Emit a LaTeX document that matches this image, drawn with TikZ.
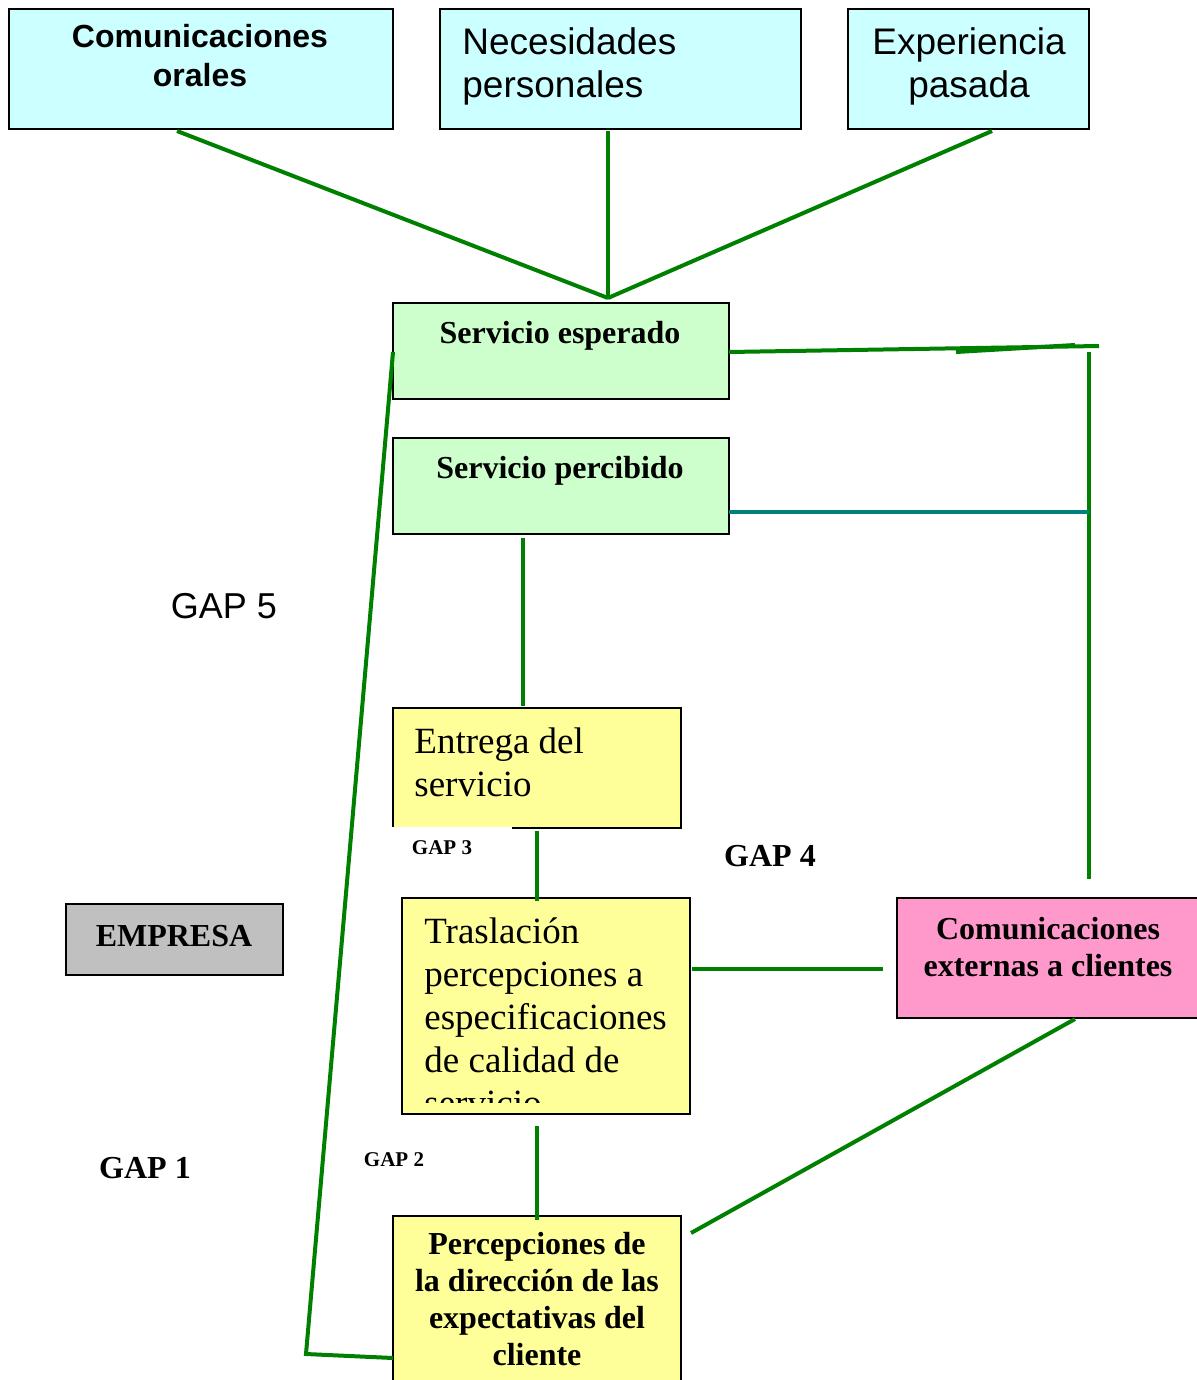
\documentclass[tikz,border=0pt]{standalone}
\usepackage{fontspec}
\setmainfont{Liberation Serif}
\setsansfont{Liberation Sans}
\usetikzlibrary{calc}
\definecolor{bcyan}{RGB}{204,255,255}
\definecolor{bgreen}{RGB}{204,255,204}
\definecolor{byellow}{RGB}{255,255,153}
\definecolor{bpink}{RGB}{255,153,204}
\definecolor{bgray}{RGB}{192,192,192}
\definecolor{lgreen}{RGB}{0,128,0}
\definecolor{lteal}{RGB}{0,128,128}
\begin{document}
\begin{tikzpicture}[x=0.5pt,y=-0.5pt,
  box/.style={draw=black, line width=0.8pt, inner sep=0pt},
  txt/.style={inner sep=0pt, anchor=base},
  gl/.style={draw=lgreen, line width=2pt},
  tl/.style={draw=lteal, line width=2pt},
  sansA/.style={font=\sffamily\fontsize{16}{19.5}\selectfont\bfseries},
  sansB/.style={font=\sffamily\fontsize{18.5}{21.5}\selectfont},
  serB/.style={font=\rmfamily\bfseries\fontsize{16}{18.4}\selectfont},
  serR/.style={font=\rmfamily\fontsize{18.5}{21.5}\selectfont},
  serS/.style={font=\rmfamily\bfseries\fontsize{10.5}{12}\selectfont}]
\useasboundingbox[fill=white] (0,0) rectangle (1197,1380);

% boxes
\node[box, fill=bcyan, minimum width=192pt, minimum height=60pt] (co) at (201,69) {};
\node[box, fill=bcyan, minimum width=180.5pt, minimum height=60pt] (np) at (620.5,69) {};
\node[box, fill=bcyan, minimum width=120.5pt, minimum height=60pt] (ep) at (968.5,69) {};
\node[box, fill=bgreen, minimum width=168pt, minimum height=48pt] (se) at (561,351) {};
\node[box, fill=bgreen, minimum width=168pt, minimum height=48pt] (sp) at (561,486) {};
\node[box, fill=byellow, minimum width=144pt, minimum height=60pt] (es) at (537,768) {};
\node[box, fill=byellow, minimum width=144pt, minimum height=108pt] (tr) at (546,1006) {};
\node[box, fill=bgray, minimum width=108.5pt, minimum height=35.5pt] (em) at (174.5,939.5) {};
\node[box, fill=bpink, minimum width=151.5pt, minimum height=60pt] (ce) at (1048.5,958) {};
\node[box, fill=byellow, minimum width=144pt, minimum height=87pt] (pd) at (537,1303) {};

% texts (multi-line nodes: base anchor = last line baseline)
\node[txt, sansA, align=center] (tco) at (200,87) {Comunicaciones\\orales};
\node[txt, sansB, align=left, anchor=base west] (tnp) at (462,98) {Necesidades\\personales};
\node[txt, sansB, align=center] (tep) at (969,98) {Experiencia\\pasada};
\node[txt, serB] (tse) at (560,343) {Servicio esperado};
\node[txt, serB] (tsp) at (560,478) {Servicio percibido};
\node[txt, serR, align=left, anchor=base west] (tes) at (414,796) {Entrega del\\servicio};
\begin{scope}
\clip (400,900) rectangle (690,1102);
\node[txt, serR, align=left, anchor=base west] (ttr) at (424,1115) {Traslación\\percepciones a\\especificaciones\\de calidad de\\servicio};
\end{scope}
\node[txt, serB] (tem) at (174,946) {EMPRESA};
\node[txt, serB, align=center] (tce) at (1048,976) {Comunicaciones\\externas a clientes};
\node[txt, serB, align=center, font=\rmfamily\bfseries\fontsize{16}{18.35}\selectfont] (tpd) at (537,1365) {Percepciones de\\la dirección de las\\expectativas del\\cliente};

% gap labels
\node[txt, font=\sffamily\fontsize{18}{21}\selectfont] (g5) at (224,618) {GAP 5};
\node[txt, serB] (g4) at (770,866) {GAP 4};
\node[txt, serB] (g1) at (145,1178) {GAP 1};
\fill[white] (390,827) rectangle (512,872);
\node[txt, serS] (g3) at (442,854) {GAP 3};
\node[txt, serS] (g2) at (394,1166) {GAP 2};

% coordinates
\coordinate (j) at (608,298);
\coordinate (a1) at (177,131);
\coordinate (a2) at (608,131);
\coordinate (a3) at (992,131);
\coordinate (r1) at (729,352);
\coordinate (r2) at (1099,346);
\coordinate (r3) at (956,352);
\coordinate (r4) at (1075,345);
\coordinate (v1) at (1089,352);
\coordinate (v2) at (1089,879);
\coordinate (t1) at (729,512);
\coordinate (t2) at (1089,512);
\coordinate (s1) at (523,538);
\coordinate (s2) at (523,706);
\coordinate (e1) at (537,831);
\coordinate (e2) at (537,901);
\coordinate (h1) at (692,969);
\coordinate (h2) at (883,969);
\coordinate (p1) at (537,1126);
\coordinate (p2) at (537,1220);
\coordinate (c1) at (1075,1019);
\coordinate (c2) at (691,1233);
\coordinate (l1) at (393,352);
\coordinate (l2) at (306,1354);
\coordinate (l3) at (393,1358);

% connectors
\draw[gl] (a1) -- (j);
\draw[gl] (a2) -- (j);
\draw[gl] (a3) -- (j);
\draw[gl] (r1) -- (r2);
\draw[gl] (r3) -- (r4);
\draw[gl] (v1) -- (v2);
\draw[tl] (t1) -- (t2);
\draw[gl] (s1) -- (s2);
\draw[gl] (e1) -- (e2);
\draw[gl] (h1) -- (h2);
\draw[gl] (p1) -- (p2);
\draw[gl] (c1) -- (c2);
\draw[gl] (l1) -- (l2) -- (l3);
\end{tikzpicture}
\end{document}
